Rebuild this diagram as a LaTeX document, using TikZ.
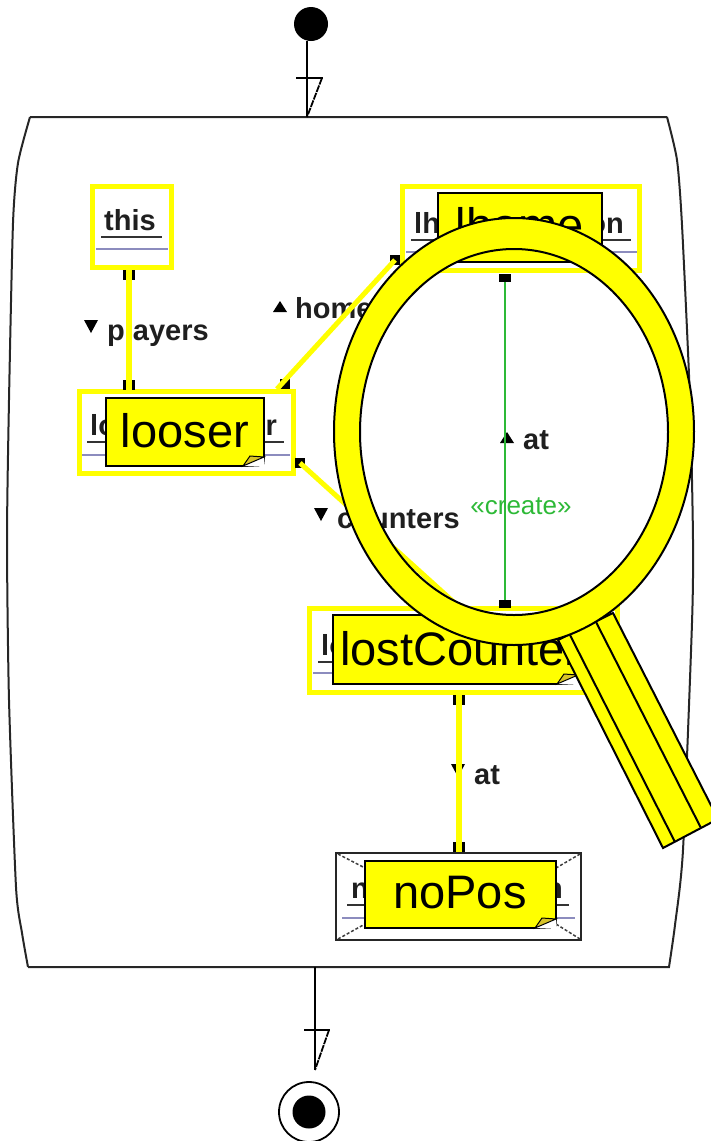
\documentclass[tikz,border=0pt]{standalone}
\usepackage{fontspec}
\setmainfont{Liberation Sans}
\usepackage{xcolor}
\usepackage{tikz}
\definecolor{markyellow}{RGB}{255,255,0}
\definecolor{foldyellow}{RGB}{215,195,40}
\definecolor{sepline}{RGB}{140,140,190}
\definecolor{creategreen}{RGB}{45,185,55}
\tikzset{
	objbox/.style={draw=markyellow,line width=5.5,inner sep=0,outer sep=0,fill=white},
	notebox/.style={fill=markyellow,draw=black,line width=1.5,inner sep=0,outer sep=0},
	notetext/.style={inner sep=0,font=\fontsize{47}{50}\selectfont},
	smalltext/.style={inner sep=0,font=\fontsize{29}{32}\selectfont\bfseries,text=black!88},
	endsq/.style={fill=black,draw=none,inner sep=0,minimum width=12,minimum height=10},
	flagline/.style={line width=1.8,dash pattern=on 7 off 1},
}
\begin{document}
\begin{tikzpicture}[x=1pt,y=-1pt]
\useasboundingbox (0,0) rectangle (711,1141);

% start and stop
\node[circle,fill=black,inner sep=0,minimum size=34] (start) at (311,24) {};
\node[circle,draw=black,line width=1.8,inner sep=0,minimum size=60] (stopring) at (309,1112) {};
\node[circle,fill=black,inner sep=0,minimum size=33] (stop) at (309,1112) {};

% the activity
\coordinate (topin) at (307,117);
\coordinate (botout) at (315,967);
\coordinate (botend) at (315,1070);
\draw[line width=2,black!85] (30,117)--(667,117)
	plot[smooth,tension=0.4] coordinates {(667,117) (677,160) (682,225) (690,400) (693,540) (692,623) (683,850) (675,925) (669,967)}
	--(28,967)
	plot[smooth,tension=0.4] coordinates {(28,967) (22,933) (16,887) (9,700) (7,540) (9,400) (13,223) (18,163) (30,117)};

% transitions with the guard flag
\draw[line width=1.8] (start.south -| topin)--(topin);
\draw[line width=1.8] (296,78)--(323,78);
\draw[flagline] (322,78)--(topin);
\draw[line width=1.8] (botout)--(botend);
\draw[line width=1.8] (304,1030)--(330,1030);
\draw[flagline] (329,1030)--(botend);

% objects
\node[objbox,minimum width=79,minimum height=81] (this) at (132,227) {};
\node[objbox,minimum width=214,minimum height=82] (looser) at (186.5,432.5) {};
\node[objbox,minimum width=237,minimum height=84] (lhome) at (521,228.5) {};
\node[objbox,minimum width=308,minimum height=84] (lost) at (463.5,650.5) {};
\node[draw=black!85,line width=2.5,fill=white,inner sep=0,outer sep=0,minimum width=245,minimum height=87] (nopos) at (458.5,896.5) {};

\foreach \a/\b/\c/\d in {101/162/237/249,87/284/442/455,411/631/240/252,318/600/662/673,347/569/905/918}{
	\draw[line width=1.8,black!80] (\a,\c)--(\b,\c);
	\draw[line width=1.5,sepline] (\a-5,\d)--(\b+6,\d);
}
\foreach \a/\b/\c/\d in {338/854/365/868,580/854/556/868,338/939/365/924,580/939/556/924}{
	\draw[line width=1.5,densely dashed,black!75] (\a,\b)--(\c,\d);
}

\node[smalltext,anchor=base] (thisname) at (130,230) {this};
\node[smalltext,anchor=base west] (loosera) at (90,435) {lo};
\node[smalltext,anchor=base east] (looserb) at (277,435) {r};
\node[smalltext,anchor=base west] (lhomea) at (414,233) {lh};
\node[smalltext,anchor=base east] (lhomeb) at (624,233) {on};
\node[smalltext,anchor=base west] (losta) at (321,655) {lo};
\node[smalltext,anchor=base west] (noposa) at (351,898) {n};
\node[smalltext,anchor=base east] (noposb) at (563,898) {n};

% link labels
\node[smalltext,anchor=base west] (playerslbl) at (107,340) {players};
\node[smalltext,anchor=base west] (homelbl) at (295,318) {home};
\node[smalltext,anchor=base west] (counterslbl) at (337,528) {counters};
\node[smalltext,anchor=base west] (atlbl) at (523,449) {at};
\node[smalltext,anchor=base west] (atlblb) at (474,784) {at};
\node[inner sep=0,text=creategreen,font=\fontsize{26}{28}\selectfont] (createlbl) at (521,506) {«create»};
\foreach \a/\b in {91/320,458/764,321/508}{
	\fill[black] (\a-7,\b)--(\a+7,\b)--(\a,\b+13)--cycle;
}
\foreach \a/\b in {280/312,507/443}{
	\fill[black] (\a-7,\b)--(\a+7,\b)--(\a,\b-11)--cycle;
}

% links
\node[endsq] (sqthis) at (129,275) {};
\node[endsq] (sqplayers) at (129,385) {};
\node[endsq] (sqlost) at (458.5,700) {};
\node[endsq] (sqnopos) at (458.5,847) {};
\node[endsq,minimum height=8] (sqtop) at (505,278) {};
\node[endsq,minimum height=8] (sqbot) at (505,604) {};
\node[endsq,minimum width=10] (sqhome) at (395,260) {};
\node[endsq,minimum width=10] (sqlooser) at (285,384) {};
\node[endsq,minimum width=10] (sqcount) at (300,463) {};
\coordinate (homeend) at (277,389);
\coordinate (countend) at (458,606);

\draw[markyellow,line width=6] (sqthis.north)--(sqplayers.south);
\draw[markyellow,line width=6] (sqlost.north)--(sqnopos.south);
\draw[markyellow,line width=5] (homeend)--(sqhome.center);
\draw[markyellow,line width=5] (sqcount.center)--(countend);
\draw[creategreen,line width=2.5] (sqtop)--(sqbot);

% notes
\node[notebox,anchor=north west,minimum width=158,minimum height=68] (looserbox) at (106,398) {};
\node[notebox,anchor=north west,minimum width=164,minimum height=69] (lhomebox) at (438,193) {};
\node[notebox,anchor=north west,minimum width=245,minimum height=69] (lostbox) at (333,615) {};
\node[notebox,anchor=north west,minimum width=191,minimum height=67] (noposbox) at (365,861) {};
\foreach \n in {looserbox,lostbox,noposbox}{
	\fill[white] ([xshift=-21]\n.south east)--([yshift=9]\n.south east)--([shift={(1,1)}]\n.south east)--cycle;
	\draw[line width=1,fill=foldyellow] ([xshift=-21]\n.south east)--([shift={(-14,-10)}]\n.south east)--([yshift=9]\n.south east)--cycle;
}
\node[notetext] (looserlbl) at (185,431) {looser};
\node[notetext] (lhomelbl) at (520,225) {lhome};
\node[notetext,anchor=west] (lostlbl) at (340,649) {lostCounter};
\node[notetext] (noposlbl) at (460,893) {noPos};

% magnifying glass
\draw[fill=markyellow,line width=2] (558,640)--(613,613)--(718,819)--(663,848)--cycle;
\draw[line width=2] (570,635)--(675,842);
\draw[line width=2] (596,622)--(701,828);
\draw[fill=markyellow,line width=2,even odd rule] (514,431.5) ellipse (180 and 213.5) (514,432) ellipse (154 and 183);
\end{tikzpicture}
\end{document}
